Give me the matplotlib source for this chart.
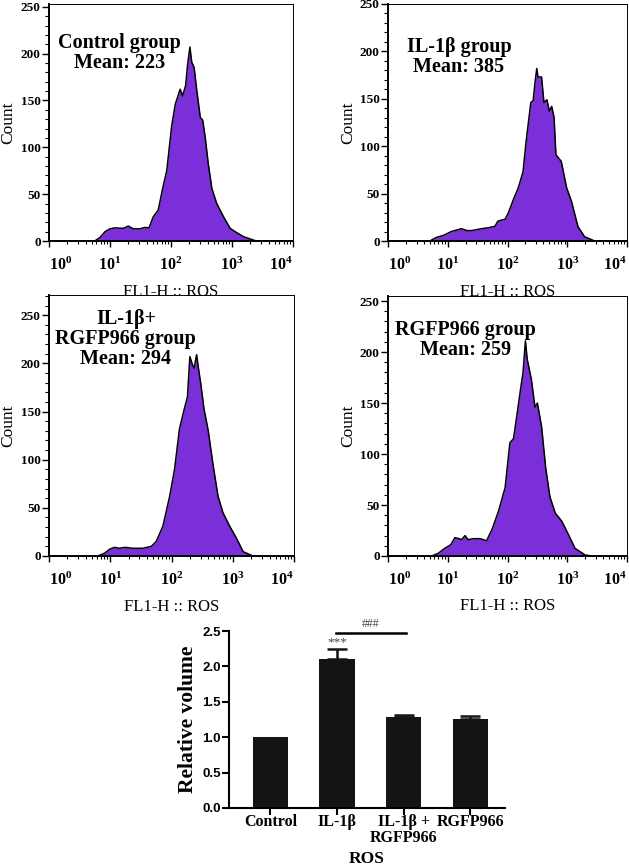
import numpy as np
import matplotlib
matplotlib.use('Agg')
import matplotlib.pyplot as plt
from matplotlib.ticker import MultipleLocator, LogLocator, NullFormatter

plt.rcParams['font.family'] = ['Liberation Serif', 'DejaVu Serif']
plt.rcParams['mathtext.fontset'] = 'custom'
plt.rcParams['mathtext.rm'] = 'Liberation Serif'
plt.rcParams['mathtext.bf'] = 'Liberation Serif:bold'

# histogram traces: log10(FL1-H) and count
ctrl_log = [0.75, 0.84, 0.92, 1.00, 1.08, 1.22, 1.30, 1.38, 1.49, 1.57, 1.64, 1.71, 1.79,
            1.87, 1.93, 2.01, 2.07, 2.15, 2.19, 2.24, 2.27, 2.31, 2.34, 2.38, 2.42, 2.48,
            2.52, 2.56, 2.61, 2.67, 2.75, 2.86, 2.97, 3.05, 3.19, 3.35, 3.40]
ctrl_cnt = [0, 4, 10, 13, 14, 13.5, 16, 13, 13, 14.5, 14, 26, 33,
            58, 75, 122, 146, 162, 155, 166, 187, 207, 191, 185, 162, 132,
            129, 111, 83, 56, 40, 26, 13.5, 10, 4.6, 1, 0]

il1b_log = [0.70, 0.81, 0.93, 1.06, 1.23, 1.32, 1.40, 1.57, 1.68, 1.79, 1.84, 1.96, 2.01,
            2.10, 2.18, 2.26, 2.31, 2.35, 2.39, 2.43, 2.46, 2.49, 2.51, 2.57, 2.61, 2.66,
            2.70, 2.74, 2.78, 2.81, 2.90, 2.99, 3.07, 3.18, 3.29, 3.46]
il1b_cnt = [0, 3.8, 6, 10, 13, 11, 11, 13, 14, 15.5, 21, 23, 29,
            44, 56, 73, 104, 125, 146, 148, 167, 182, 173, 173, 146, 149,
            137, 142, 130, 91, 84, 56, 42, 15, 4.5, 0]

combo_log = [0.80, 0.91, 0.99, 1.07, 1.15, 1.24, 1.37, 1.53, 1.67, 1.75, 1.86, 1.97, 2.05,
             2.13, 2.21, 2.26, 2.30, 2.34, 2.37, 2.41, 2.44, 2.48, 2.53, 2.60, 2.68, 2.76,
             2.84, 2.95, 3.06, 3.17, 3.33]
combo_cnt = [0, 3, 7, 9, 8, 9, 8, 8, 10, 15, 31, 62, 90,
             132, 153, 165, 207, 199, 195, 209, 195, 178, 153, 130, 94, 62,
             45, 31, 18.5, 4.5, 0]

rgfp_log = [0.73, 0.84, 0.95, 1.05, 1.12, 1.19, 1.23, 1.29, 1.34, 1.43, 1.54, 1.65, 1.74,
            1.85, 1.96, 2.04, 2.10, 2.15, 2.21, 2.26, 2.30, 2.33, 2.40, 2.46, 2.50, 2.57,
            2.64, 2.71, 2.80, 2.91, 3.02, 3.13, 3.30, 3.41]
rgfp_cnt = [0, 2.6, 7.5, 11, 18, 17, 16, 20, 16, 17, 17, 15, 26,
            44, 67, 111, 115, 135, 160, 180, 211, 193, 173, 146, 150, 127,
            86, 58, 42, 34, 21, 7.5, 1, 0]

group_titles = ['Control group\nMean: 223', 'IL-1\u03b2 group\nMean: 385',
                'IL-1\u03b2+\nRGFP966 group\nMean: 294', 'RGFP966 group\nMean: 259']

# bar chart
bar_labels = ['Control', 'IL-1\u03b2', 'IL-1\u03b2 +\nRGFP966', 'RGFP966']
bar_values = [1.00, 2.10, 1.28, 1.26]
bar_errors = [0.0, 0.15, 0.03, 0.04]

W, H = 629, 867
fig = plt.figure(figsize=(W / 100, H / 100), dpi=100)


def px_axes(l, t, r, b):
    a = fig.add_axes([l / W, 1 - b / H, (r - l) / W, (b - t) / H])
    a.set_facecolor('none')
    return a


purple = '#7b2fd8'


def histo(ax, xlog, cnt, ytop, title, tx, ty):
    x = 10 ** np.array(xlog)
    ax.fill_between(x, cnt, 0, color=purple, lw=0)
    ax.plot(x, cnt, color='black', lw=1.1)
    ax.set_xscale('log')
    ax.set_xlim(1, 1e4)
    ax.set_ylim(0, ytop)
    ax.yaxis.set_major_locator(MultipleLocator(50))
    ax.yaxis.set_minor_locator(MultipleLocator(10))
    ax.xaxis.set_minor_locator(LogLocator(base=10, subs=np.arange(2, 10), numticks=20))
    ax.xaxis.set_minor_formatter(NullFormatter())
    ax.set_xticks([1, 10, 100, 1000, 10000])
    ax.set_xticklabels([r'$\mathbf{10^{%d}}$' % i for i in range(5)], fontsize=11.5)
    labs = ax.get_xticklabels()
    labs[0].set_ha('left')
    labs[-1].set_ha('right')
    for lab in ax.get_yticklabels():
        lab.set_fontweight('bold')
        lab.set_fontsize(9.5)
    ax.tick_params(axis='y', which='major', length=5, width=1, direction='out', pad=1)
    ax.tick_params(axis='y', which='minor', length=3.2, width=0.8, direction='out')
    ax.tick_params(axis='x', which='major', length=4, width=1, direction='out', pad=7)
    ax.tick_params(axis='x', which='minor', length=2.4, width=0.8, direction='out')
    ax.spines['left'].set_linewidth(1.4)
    ax.spines['bottom'].set_linewidth(1.4)
    ax.spines['top'].set_linewidth(0.7)
    ax.spines['right'].set_linewidth(0.7)
    ax.set_ylabel('Count', fontsize=12.5)
    ax.set_xlabel('FL1-H :: ROS', fontsize=12)
    ax.text(tx, ty, title, transform=ax.transAxes, ha='center', va='center',
            fontsize=14.5, fontweight='bold', linespacing=1.0)


ax1 = px_axes(49, 4, 293, 241)
ax2 = px_axes(388, 4, 627, 241)
ax3 = px_axes(49, 295, 294, 556)
ax4 = px_axes(388, 296, 627, 556)

histo(ax1, ctrl_log, ctrl_cnt, 253, group_titles[0], 0.29, 0.795)
histo(ax2, il1b_log, il1b_cnt, 250, group_titles[1], 0.297, 0.778)
histo(ax3, combo_log, combo_cnt, 271, group_titles[2], 0.314, 0.831)
histo(ax4, rgfp_log, rgfp_cnt, 255, group_titles[3], 0.324, 0.831)
ax1.yaxis.set_label_coords(-0.135, 0.5)
ax3.yaxis.set_label_coords(-0.135, 0.5)
ax2.yaxis.set_label_coords(-0.134, 0.5)
ax4.yaxis.set_label_coords(-0.134, 0.5)
ax1.xaxis.set_label_coords(0.5, -0.18)
ax2.xaxis.set_label_coords(0.5, -0.18)
ax3.xaxis.set_label_coords(0.5, -0.163)
ax4.xaxis.set_label_coords(0.5, -0.163)

# bar chart
axb = px_axes(229, 631, 505, 808)
pos = np.arange(len(bar_values))
axb.bar(pos, bar_values, width=0.53, color='#141414')
axb.errorbar(pos[1:], bar_values[1:], yerr=[np.zeros(3), bar_errors[1:]], fmt='none',
             ecolor='#141414', elinewidth=1.8, capsize=7, capthick=1.8)
axb.set_xlim(-0.62, 3.52)
axb.set_ylim(0, 2.5)
axb.set_yticks(np.arange(0, 2.51, 0.5))
axb.set_yticklabels(['%.1f' % v for v in np.arange(0, 2.51, 0.5)],
                    fontsize=9.5, fontweight='bold', family='Liberation Sans')
axb.set_xticks(pos)
axb.set_xticklabels(bar_labels, fontsize=11.5, fontweight='bold', linespacing=1.0)
for s in ('top', 'right'):
    axb.spines[s].set_visible(False)
axb.spines['left'].set_linewidth(1.5)
axb.spines['bottom'].set_linewidth(1.5)
axb.tick_params(axis='both', length=5, width=1.5, direction='out', pad=1)
axb.tick_params(axis='x', pad=-1)
axb.set_ylabel('Relative volume', fontsize=15.5, fontweight='bold', labelpad=3)
axb.set_xlabel('ROS', fontsize=12.5, fontweight='bold', labelpad=4)
axb.plot([0.98, 2.03], [2.47, 2.47], color='black', lw=1.8, clip_on=False)
axb.text(1.5, 2.51, '###', ha='center', va='bottom', fontsize=8.5, color='#444444')
axb.text(1, 2.26, '***', ha='center', va='bottom', fontsize=9.5, color='#444444')

fig.savefig('out.png', dpi=100)
